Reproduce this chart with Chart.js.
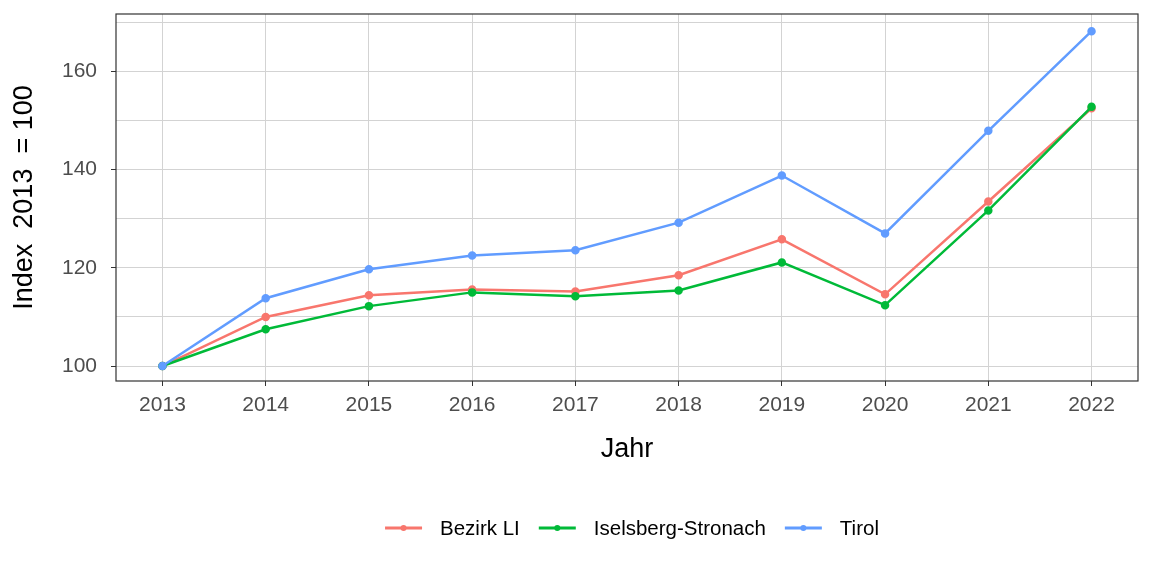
<!DOCTYPE html>
<html>
<head>
<meta charset="utf-8">
<script src="https://cdn.jsdelivr.net/npm/chart.js@4.4.0/dist/chart.umd.min.js"></script>
<style>
  html, body { margin: 0; padding: 0; background: #fff; }
  #wrap { width: 1152px; height: 576px; }
</style>
</head>
<body>
<div id="wrap"><canvas id="chart" width="1152" height="576"></canvas></div>
<script>
// values
const years = [2013, 2014, 2015, 2016, 2017, 2018, 2019, 2020, 2021, 2022];
const bezirkLI = [100, 110.0, 114.4, 115.6, 115.2, 118.5, 125.8, 114.6, 133.5, 152.5];
const iselsberg = [100, 107.5, 112.2, 115.0, 114.2, 115.4, 121.1, 112.4, 131.7, 152.8];
const tirol = [100, 113.8, 119.7, 122.5, 123.6, 129.2, 138.8, 127.0, 147.9, 168.2];
const yTicks = [100, 110, 120, 130, 140, 150, 160, 170];
const yLabelTicks = [100, 120, 140, 160];

const seriesNames = ['Bezirk LI', 'Iselsberg-Stronach', 'Tirol'];
const seriesColors = ['#F8766D', '#00BA38', '#619CFF'];
const seriesData = [bezirkLI, iselsberg, tirol];

const font = "Arial, 'Liberation Sans', sans-serif";

function makeDataset(i) {
    return {
        label: seriesNames[i],
        data: years.map((y, k) => ({ x: y, y: seriesData[i][k] })),
        borderColor: seriesColors[i],
        backgroundColor: seriesColors[i],
        borderWidth: 2.5,
        pointRadius: 3,
        pointHoverRadius: 3,
        tension: 0,
        order: 2 - i
    };
}

// frame, axis titles and legend
const decorations = {
    id: 'decorations',
    afterDraw(chart) {
        const ctx = chart.ctx;
        const a = chart.chartArea;
        ctx.save();
        ctx.strokeStyle = '#333333';
        ctx.lineWidth = 1.2;
        ctx.strokeRect(a.left, a.top, a.right - a.left, a.bottom - a.top);

        ctx.fillStyle = '#000';
        ctx.font = '27px ' + font;
        ctx.textAlign = 'center';
        ctx.textBaseline = 'middle';
        ctx.fillText('Jahr', (a.left + a.right) / 2, 450);

        ctx.save();
        ctx.translate(25, (a.top + a.bottom) / 2);
        ctx.rotate(-Math.PI / 2);
        ctx.fillText('Index  2013  = 100', 0, 0);
        ctx.restore();

        // legend
        ctx.font = '20.5px ' + font;
        ctx.textAlign = 'left';
        const keyW = 37, gapKey = 18, gapItem = 19;
        const widths = seriesNames.map(n => ctx.measureText(n).width);
        let total = 0;
        widths.forEach((w, i) => { total += keyW + gapKey + w + (i < widths.length - 1 ? gapItem : 0); });
        let x = 632 - total / 2;
        const y = 528;
        seriesNames.forEach((n, i) => {
            ctx.strokeStyle = seriesColors[i];
            ctx.lineWidth = 3;
            ctx.beginPath();
            ctx.moveTo(x, y);
            ctx.lineTo(x + keyW, y);
            ctx.stroke();
            ctx.fillStyle = seriesColors[i];
            ctx.beginPath();
            ctx.arc(x + keyW / 2, y, 3, 0, Math.PI * 2);
            ctx.fill();
            ctx.fillStyle = '#000';
            ctx.fillText(n, x + keyW + gapKey, y + 1);
            x += keyW + gapKey + widths[i] + gapItem;
        });
        ctx.restore();
    }
};

new Chart(document.getElementById('chart').getContext('2d'), {
    type: 'line',
    data: { datasets: [0, 1, 2].map(makeDataset) },
    options: {
        responsive: false,
        animation: false,
        layout: { padding: { top: 14, right: 14, left: 0, bottom: 0 } },
        plugins: { legend: { display: false }, tooltip: { enabled: false } },
        scales: {
            x: {
                type: 'linear',
                min: 2012.55,
                max: 2022.45,
                afterBuildTicks: scale => { scale.ticks = years.map(v => ({ value: v })); },
                afterFit: scale => {
                    scale.height = 576 - 381;
                    scale.paddingLeft = 0;
                    scale.paddingRight = 0;
                },
                border: { display: false },
                grid: { color: '#D3D3D3', lineWidth: 1, tickLength: 5, tickColor: '#333333' },
                ticks: {
                    color: '#4D4D4D',
                    font: { family: font, size: 21 },
                    padding: 7,
                    maxRotation: 0,
                    autoSkip: false,
                    callback: v => String(v)
                }
            },
            y: {
                min: 96.95,
                max: 171.7,
                afterBuildTicks: scale => { scale.ticks = yTicks.map(v => ({ value: v })); },
                afterFit: scale => {
                    scale.width = 116;
                    scale.paddingTop = 0;
                    scale.paddingBottom = 0;
                },
                border: { display: false },
                grid: {
                    color: '#D3D3D3',
                    lineWidth: 1,
                    tickLength: 5,
                    tickColor: c => yLabelTicks.includes(c.tick.value) ? '#333333' : 'rgba(0,0,0,0)'
                },
                ticks: {
                    color: '#4D4D4D',
                    font: { family: font, size: 21 },
                    padding: 14,
                    autoSkip: false,
                    callback: v => yLabelTicks.includes(v) ? String(v) : ''
                }
            }
        }
    },
    plugins: [decorations]
});
</script>
</body>
</html>
